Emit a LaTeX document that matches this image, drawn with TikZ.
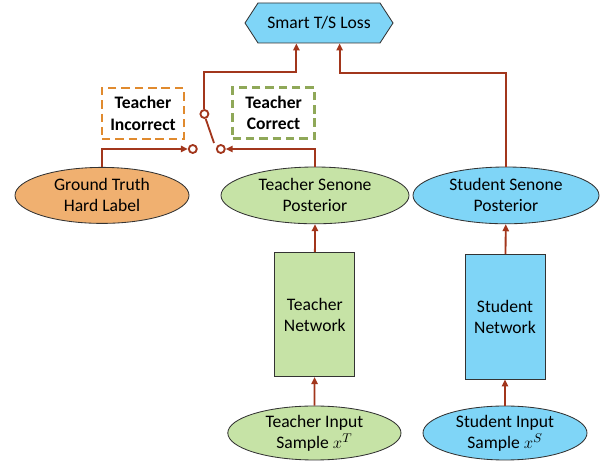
\documentclass[tikz,border=0pt]{standalone}
\usepackage{fontspec}
\setmainfont{Carlito}
\usepackage{tikz}
\usetikzlibrary{arrows.meta, shapes.geometric, shapes.symbols}

\definecolor{lossblue}{HTML}{7FD5F7}
\definecolor{teachgreen}{HTML}{C6E3A6}
\definecolor{truthorange}{HTML}{F0B070}
\definecolor{flowred}{HTML}{A2361C}
\definecolor{dashorange}{HTML}{E08A2E}
\definecolor{dashgreen}{HTML}{8FA858}

\tikzset{
    blob/.style={ellipse, draw=black!80, line width=0.6pt, align=center, inner sep=0pt},
    netbox/.style={rectangle, draw=black!80, line width=0.6pt, align=center, minimum width=2cm},
    casebox/.style={rectangle, draw, line width=1.7pt, dash pattern=on 6pt off 3.5pt, align=center, font=\fontsize{12.5}{15}\selectfont\bfseries, minimum width=2.05cm, minimum height=1.27cm},
    flow/.style={draw=flowred, line width=1.3pt, -{Triangle[length=5pt, width=4.5pt]}},
    contact/.style={circle, draw=flowred, line width=1.3pt, fill=white, inner sep=0pt, minimum size=0.2cm}
}

\begin{document}
\begin{tikzpicture}[font=\fontsize{12.5}{15}\selectfont]
    \useasboundingbox (0,0) rectangle (15.125,11.525);

    % Loss
    \node[signal, signal to=west and east, signal pointer angle=114, draw=black!80, line width=0.6pt, fill=lossblue, minimum width=3.7cm, minimum height=1cm] (loss) at (7.975,10.95) {Smart T/S Loss};

    % Switch cases
    \node[casebox, draw=dashorange] (incorrect) at (3.575,8.69) {Teacher\\Incorrect};
    \node[casebox, draw=dashgreen] (correct) at (6.84,8.7) {Teacher\\Correct};

    % Posteriors
    \node[blob, fill=truthorange, minimum width=4.35cm, minimum height=1.4cm] (truth) at (2.55,6.64) {Ground Truth\\Hard Label};
    \node[blob, fill=teachgreen, minimum width=4.7cm, minimum height=1.42cm] (tpost) at (7.875,6.64) {Teacher Senone\\Posterior};
    \node[blob, fill=lossblue, minimum width=4.65cm, minimum height=1.42cm] (spost) at (12.65,6.64) {Student Senone\\Posterior};

    % Networks
    \node[netbox, fill=teachgreen, minimum height=3.1cm] (tnet) at (7.87,3.66) {Teacher\\Network};
    \node[netbox, fill=lossblue, minimum height=3.12cm] (snet) at (12.625,3.61) {Student\\Network};

    % Inputs
    \node[blob, fill=teachgreen, minimum width=4.33cm, minimum height=1.35cm] (tin) at (7.86,0.7) {Teacher Input\\Sample $x^T$};
    \node[blob, fill=lossblue, minimum width=4.1cm, minimum height=1.35cm] (sin) at (12.625,0.7) {Student Input\\Sample $x^S$};

    % Switch
    \node[contact] (pivot) at (5.11,8.675) {};
    \node[contact] (left) at (4.82,7.8) {};
    \node[contact] (right) at (5.52,7.8) {};
    \coordinate (lever) at (5.35,7.95);
    \coordinate (ja) at (7.41,9.725);
    \coordinate (jb) at (8.49,9.7);

    % Connectors
    \draw[flow] (tin) -- (tnet);
    \draw[flow] (sin) -- (snet);
    \draw[flow] (tnet) -- (tpost);
    \draw[flow] (snet) -- (spost);
    \draw[flow] (truth.north) |- (left.west);
    \draw[flow] (tpost.north) |- (right.east);
    \draw[draw=flowred, line width=1.3pt] (pivot.-75) -- (lever);
    \draw[flow] (pivot.north) |- (ja) -- (ja |- loss.south);
    \draw[flow] (spost.north) |- (jb) -- (jb |- loss.south);
\end{tikzpicture}
\end{document}
